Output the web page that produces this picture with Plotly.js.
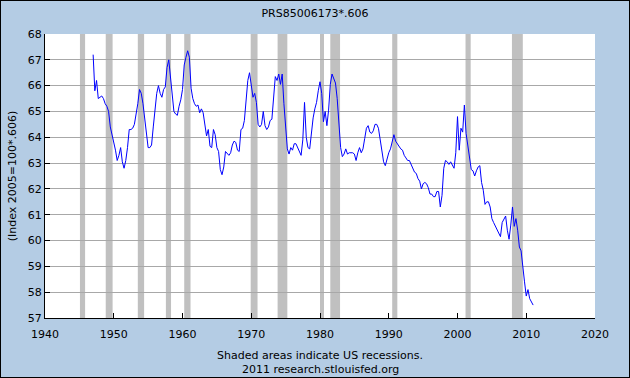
<!DOCTYPE html>
<html><head><meta charset="utf-8">
<script src="https://cdn.plot.ly/plotly-3.0.1.min.js"></script>
<style>
html,body{margin:0;padding:0;background:#fff;}
#wrap{position:relative;width:630px;height:378px;}
#chart{width:630px;height:378px;}
#border{position:absolute;left:0;top:0;width:630px;height:378px;box-sizing:border-box;border:1px solid #000;pointer-events:none;}
</style></head><body>
<div id="wrap"><div id="chart"></div><div id="border"></div></div>
<script>
// Quarterly series PRS85006173*.606, starting 1947 Q1
const startYear = 1947;
const v1940s = [67.2, 65.8, 66.2, 65.5,  65.55, 65.6, 65.5, 65.3,  65.2, 65.0, 64.4, 64.1];
const v1950s = [63.9, 63.5, 63.1, 63.3,  63.6, 63.05, 62.8, 63.1,  63.6, 64.3, 64.3, 64.35,
                64.5, 64.85, 65.3, 65.85,  65.7, 65.3, 64.8, 64.1,  63.6, 63.6, 63.7, 64.4,
                65.2, 65.7, 66.0, 65.7,  65.55, 65.85, 65.95, 66.7,  67.0, 66.3, 65.5, 65.0,
                64.9, 64.85, 65.2, 65.45];
const v1960s = [65.85, 66.8, 67.1, 67.35,  67.1, 65.9, 65.5, 65.3,  65.2, 65.25, 64.95, 65.1,
                64.95, 64.4, 64.05, 64.3,  63.65, 63.6, 64.3, 64.1,  63.6, 63.45, 62.75, 62.55,
                62.85, 63.45, 63.35, 63.3,  63.4, 63.7, 63.85, 63.8,  63.5, 63.45, 64.3, 64.35,
                64.65, 65.5, 66.2, 66.5];
const v1970s = [65.9, 65.55, 65.7, 65.35,  64.5, 64.4, 64.5, 65.0,  64.45, 64.3, 64.4, 64.65,
                64.7, 65.4, 66.35, 66.2,  66.45, 66.05, 66.45, 65.3,  64.4, 63.55, 63.35, 63.6,
                63.5, 63.75, 63.75, 63.6,  63.45, 63.3, 63.9, 65.35,  64.0, 63.6, 63.55, 64.3,
                64.75, 65.1, 65.35, 65.8];
const v1980s = [66.15, 65.7, 64.6, 65.0,  64.45, 65.05, 66.05, 66.45,  66.25, 66.1, 65.5, 64.5,
                63.6, 63.25, 63.35, 63.55,  63.35, 63.4, 63.4, 63.4,  63.35, 63.1, 63.4, 63.6,
                63.4, 63.55, 63.95, 64.35,  64.45, 64.2, 64.15, 64.25,  64.5, 64.5, 64.35, 63.9,
                63.4, 63.05, 62.9, 63.2];
const v1990s = [63.4, 63.55, 63.9, 64.1,  63.85, 63.75, 63.6, 63.55,  63.5, 63.3, 63.2, 63.1,
                63.1, 62.95, 62.8, 62.65,  62.6, 62.4, 62.3, 62.0,  62.2, 62.25, 62.2, 62.05,
                61.8, 61.8, 61.7, 61.7,  61.9, 61.9, 61.3, 61.75,  62.8, 63.1, 63.05, 62.95,
                63.05, 62.95, 62.8, 63.4];
const v2000s = [64.8, 63.5, 64.35, 64.2,  65.25, 64.15, 63.7, 63.15,  62.75, 62.7, 62.5, 62.7,
                62.85, 62.9, 62.25, 61.95,  61.4, 61.5, 61.5, 61.3,  60.85, 60.7, 60.55, 60.4,
                60.3, 60.15, 60.7, 60.85,  60.95, 60.4, 60.05, 60.6,  61.3, 60.55, 60.85, 60.4,
                59.75, 59.6, 59.1, 58.4];
const v2010s = [57.85, 58.1, 57.75, 57.6,  57.5];

const values = [].concat(v1940s, v1950s, v1960s, v1970s, v1980s, v1990s, v2000s, v2010s);
const quarters = values.map((_, i) => startYear + i / 4);

// NBER recessions (decimal years)
const recessionStart = [1945.083, 1948.833, 1953.5, 1957.583, 1960.25, 1969.917, 1973.833, 1980.0, 1981.5, 1990.5, 2001.167, 2007.917];
const recessionEnd   = [1945.833, 1949.833, 1954.417, 1958.333, 1961.167, 1970.917, 1975.25, 1980.583, 1982.917, 1991.25, 2001.917, 2009.5];

const xTickYears = [1940, 1950, 1960, 1970, 1980, 1990, 2000, 2010, 2020];
const yTickVals = [57, 58, 59, 60, 61, 62, 63, 64, 65, 66, 67, 68];

const chartTitle = 'PRS85006173*.606';
const yTitle = '(Index 2005=100*.606)';
const footer1 = 'Shaded areas indicate US recessions.';
const footer2 = '2011 research.stlouisfed.org';

const FONT = 'DejaVu Sans, Verdana, sans-serif';

const shapes = recessionStart.map((s, i) => ({
  type: 'rect', xref: 'x', yref: 'paper', x0: s, x1: recessionEnd[i], y0: 0, y1: 1,
  fillcolor: '#C0C0C0', line: {width: 0}, layer: 'between'
}));

const trace = {
  x: quarters, y: values, type: 'scatter', mode: 'lines',
  line: {color: '#0000FF', width: 1}, hoverinfo: 'x+y'
};

const layout = {
  width: 630, height: 378,
  paper_bgcolor: '#B4CCE4', plot_bgcolor: '#FFFFFF',
  margin: {l: 45, r: 35, t: 34, b: 60},
  showlegend: false,
  font: {family: FONT, size: 11, color: '#000'},
  title: {text: chartTitle, font: {family: FONT, size: 11, color: '#000'},
          xref: 'container', x: 0.5, xanchor: 'center', yref: 'container', y: 0.966, yanchor: 'middle'},
  xaxis: {
    range: [1940, 2020], tickvals: xTickYears, ticktext: xTickYears.map(String),
    showgrid: false, zeroline: false, showline: true, linecolor: '#000', linewidth: 1,
    ticks: 'inside', ticklen: 5, tickcolor: '#000', tickwidth: 1, ticklabelstandoff: 6,
    tickfont: {family: FONT, size: 11, color: '#000'}, fixedrange: true
  },
  yaxis: {
    range: [57, 68], tickvals: yTickVals, ticktext: yTickVals.map(String),
    showgrid: true, gridcolor: '#A8A8A8', gridwidth: 1,
    zeroline: false, showline: true, linecolor: '#000', linewidth: 1,
    ticks: 'inside', ticklen: 5, tickcolor: '#000', tickwidth: 1,
    tickfont: {family: FONT, size: 11, color: '#000'},
    title: {text: yTitle, font: {family: FONT, size: 11, color: '#000'}, standoff: 8},
    fixedrange: true
  },
  shapes: shapes,
  annotations: [
    {text: footer1, xref: 'paper', yref: 'paper', x: 0.5, y: -(355 - 318) / 284, xanchor: 'center', yanchor: 'middle', showarrow: false, font: {family: FONT, size: 11, color: '#000'}},
    {text: footer2, xref: 'paper', yref: 'paper', x: 0.5, y: -(369 - 318) / 284, xanchor: 'center', yanchor: 'middle', showarrow: false, font: {family: FONT, size: 11, color: '#000'}}
  ]
};

Plotly.newPlot('chart', [trace], layout, {displayModeBar: false, staticPlot: true});
</script>
</body></html>
